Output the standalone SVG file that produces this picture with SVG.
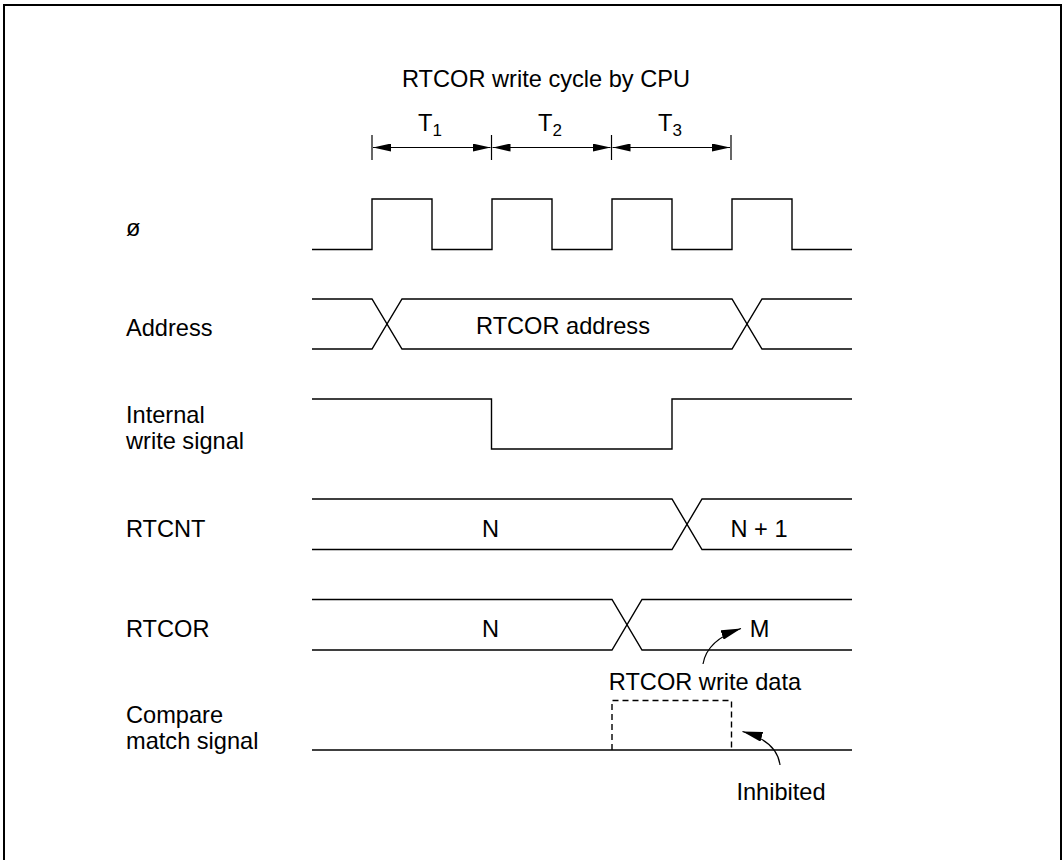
<svg xmlns="http://www.w3.org/2000/svg" width="1064" height="860" viewBox="0 0 1064 860">
<style>
text{font-family:"Liberation Sans",Arial,sans-serif;font-size:23.6px;fill:#000}
.c{text-anchor:middle}
.sig{fill:none;stroke:#000;stroke-width:1.4}
.dash{fill:none;stroke:#000;stroke-width:1.4;stroke-dasharray:6 4}
.dim{fill:none;stroke:#000;stroke-width:1.2}
.sub{font-size:17px}
</style>
<defs>
<marker id="ah" viewBox="0 0 18 8" refX="18" refY="4" markerWidth="18" markerHeight="8" markerUnits="userSpaceOnUse" orient="auto-start-reverse">
<path d="M0,0 L18,4 L0,8 Z" fill="#000"/>
</marker>
<marker id="ahc" viewBox="0 0 20 10" refX="20" refY="5" markerWidth="20" markerHeight="10" markerUnits="userSpaceOnUse" orient="auto">
<path d="M0,0 L20,5 L0,10 Z" fill="#000"/>
</marker>
</defs>
<rect x="4" y="5" width="1057" height="900" fill="#fff" stroke="#000" stroke-width="2"/>

<g id="title">
<text class="c" x="546" y="87">RTCOR write cycle by CPU</text>
</g>

<g id="timing-dims">
<line class="dim" x1="372" y1="135" x2="372" y2="160"/>
<line class="dim" x1="491.5" y1="135" x2="491.5" y2="160"/>
<line class="dim" x1="611.5" y1="135" x2="611.5" y2="160"/>
<line class="dim" x1="731" y1="135" x2="731" y2="160"/>
<line class="dim" x1="373" y1="147.5" x2="490.5" y2="147.5" marker-start="url(#ah)" marker-end="url(#ah)"/>
<line class="dim" x1="492.5" y1="147.5" x2="610.5" y2="147.5" marker-start="url(#ah)" marker-end="url(#ah)"/>
<line class="dim" x1="612.5" y1="147.5" x2="730" y2="147.5" marker-start="url(#ah)" marker-end="url(#ah)"/>
<text x="418" y="131">T<tspan class="sub" dy="5">1</tspan></text>
<text x="538" y="131">T<tspan class="sub" dy="5">2</tspan></text>
<text x="658" y="131">T<tspan class="sub" dy="5">3</tspan></text>
</g>

<g id="clock">
<text x="126" y="236">ø</text>
<path class="sig" d="M312,249.5 H372 V199 H432 V249.5 H492 V199 H552 V249.5 H612 V199 H672 V249.5 H732 V199 H792 V249.5 H852"/>
</g>

<g id="address">
<text x="126" y="336">Address</text>
<path class="sig" d="M312,299 H372 L402,349 H732 L762,299 H852"/>
<path class="sig" d="M312,349 H372 L402,299 H732 L762,349 H852"/>
<text class="c" x="563" y="334">RTCOR address</text>
</g>

<g id="write-signal">
<text x="126" y="423">Internal</text>
<text x="126" y="449">write signal</text>
<path class="sig" d="M312,399 H491.5 V449 H672 V399 H852"/>
</g>

<g id="rtcnt">
<text x="126" y="537">RTCNT</text>
<path class="sig" d="M312,499 H672 L702,549.5 H852"/>
<path class="sig" d="M312,549.5 H672 L702,499 H852"/>
<text class="c" x="490.5" y="537">N</text>
<text class="c" x="759" y="537">N + 1</text>
</g>

<g id="rtcor">
<text x="126" y="637">RTCOR</text>
<path class="sig" d="M312,599.5 H612 L642,650 H852"/>
<path class="sig" d="M312,650 H612 L642,599.5 H852"/>
<text class="c" x="490.5" y="637">N</text>
<text class="c" x="759.5" y="637">M</text>
</g>

<g id="compare-match">
<text x="126" y="723">Compare</text>
<text x="126" y="749">match signal</text>
<path class="sig" d="M312,750 H852"/>
<path class="dash" d="M612,750 V700.5 H731.5 V750"/>
</g>

<g id="annotations">
<text class="c" x="705" y="690">RTCOR write data</text>
<text class="c" x="781" y="800">Inhibited</text>
</g>

<g id="connectors">
<path class="dim" d="M703,664 Q707,640 741,628.5" marker-end="url(#ahc)"/>
<path class="dim" d="M780,765 Q777,741 742.5,731.5" marker-end="url(#ahc)"/>
</g>
</svg>
